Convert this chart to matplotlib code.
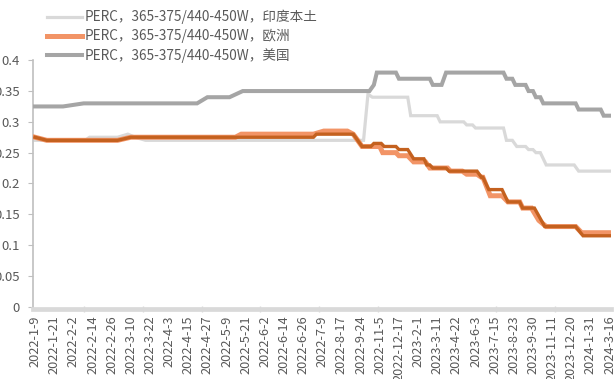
import matplotlib
matplotlib.use("Agg")
import matplotlib.pyplot as plt
from matplotlib.ticker import FixedLocator

plt.rcParams['font.family'] = ['Noto Sans CJK SC', 'DejaVu Sans']

# Category axis: one label every 13 observations
date_labels = [
    "2022-1-9", "2022-1-21", "2022-2-2", "2022-2-14", "2022-2-26", "2022-3-10",
    "2022-3-22", "2022-4-3", "2022-4-15", "2022-4-27", "2022-5-9", "2022-5-21",
    "2022-6-2", "2022-6-14", "2022-6-26", "2022-7-9", "2022-8-17", "2022-9-24",
    "2022-11-5", "2022-12-17", "2023-2-1", "2023-3-11", "2023-4-22", "2023-6-3",
    "2023-7-15", "2023-8-23", "2023-9-30", "2023-11-11", "2023-12-20",
    "2024-1-31", "2024-3-16",
]
label_step = 13
n_obs = (len(date_labels) - 1) * label_step + 1

# Price series (USD/W), given at the observations where the price changes
india_idx = [0, 34, 37, 56, 63, 68, 75, 223, 226, 229, 253, 255, 273, 275, 291,
             293, 297, 299, 318, 320, 324, 327, 333, 335, 338, 340, 343, 347,
             366, 369, 390]
india_val = [0.27, 0.27, 0.275, 0.275, 0.28, 0.275, 0.27, 0.27, 0.345, 0.34,
             0.34, 0.31, 0.31, 0.30, 0.30, 0.295, 0.295, 0.29, 0.29, 0.27, 0.27,
             0.26, 0.26, 0.255, 0.255, 0.25, 0.25, 0.23, 0.23, 0.22, 0.22]

europe_idx = [0, 8, 56, 65, 136, 140, 189, 196, 212, 216, 222, 234, 236, 245,
              247, 253, 257, 265, 268, 280, 282, 290, 293, 300, 303, 304, 309,
              317, 321, 329, 331, 337, 342, 347, 367, 371, 390]
europe_val = [0.275, 0.27, 0.27, 0.275, 0.275, 0.28, 0.28, 0.285, 0.285, 0.28,
              0.26, 0.26, 0.25, 0.25, 0.245, 0.245, 0.235, 0.235, 0.225, 0.225,
              0.22, 0.22, 0.215, 0.215, 0.21, 0.21, 0.18, 0.18, 0.17, 0.17, 0.16,
              0.16, 0.14, 0.13, 0.13, 0.12, 0.12]

europe2_idx = [0, 8, 56, 65, 189, 191, 216, 222, 228, 230, 235, 237, 245, 247,
               253, 257, 264, 266, 268, 270, 279, 281, 300, 303, 304, 308, 317,
               321, 329, 331, 339, 346, 367, 372, 390]
europe2_val = [0.275, 0.27, 0.27, 0.275, 0.275, 0.28, 0.28, 0.26, 0.26, 0.265,
               0.265, 0.26, 0.26, 0.255, 0.255, 0.24, 0.24, 0.23, 0.23, 0.225,
               0.225, 0.22, 0.22, 0.21, 0.21, 0.19, 0.19, 0.17, 0.17, 0.16, 0.16,
               0.13, 0.13, 0.115, 0.115]

us_idx = [0, 19, 33, 110, 117, 132, 141, 227, 230, 232, 245, 247, 268, 270,
          276, 279, 318, 320, 324, 326, 333, 335, 338, 340, 343, 345, 367, 369,
          384, 386, 390]
us_val = [0.325, 0.325, 0.33, 0.33, 0.34, 0.34, 0.35, 0.35, 0.36, 0.38, 0.38,
          0.37, 0.37, 0.36, 0.36, 0.38, 0.38, 0.37, 0.37, 0.36, 0.36, 0.35, 0.35,
          0.34, 0.34, 0.33, 0.33, 0.32, 0.32, 0.31, 0.31]

legend_labels = [
    "PERC，365-375/440-450W，印度本土",
    "PERC，365-375/440-450W，欧洲",
    "PERC，365-375/440-450W，美国",
]

y_ticks = [0, 0.05, 0.1, 0.15, 0.2, 0.25, 0.3, 0.35, 0.4]
y_tick_labels = ["0", "0.05", "0.1", "0.15", "0.2", "0.25", "0.3", "0.35", "0.4"]

text_color = "#595959"
axis_color = "#D9D9D9"

fig = plt.figure(figsize=(6.14, 3.79), dpi=100)
ax = fig.add_axes([0.0537, 0.191, 0.941, 0.650])

l_india, = ax.plot(india_idx, india_val, color="#D9D9D9", lw=2.3,
                   solid_joinstyle="miter", zorder=2)
l_eu, = ax.plot(europe_idx, europe_val, color="#F29466", lw=3.6,
                solid_joinstyle="miter", zorder=3)
l_us, = ax.plot(us_idx, us_val, color="#A5A5A5", lw=2.9,
                solid_joinstyle="miter", zorder=3)
ax.plot(europe2_idx, europe2_val, color="#C4611F", lw=2.4,
        solid_joinstyle="miter", zorder=4)

ax.set_xlim(-1.4, n_obs - 0.2)
ax.set_ylim(0, 0.4)

# x axis: date labels, no major tick marks, sparse minor marks
ax.set_xticks(range(0, n_obs, label_step))
ax.set_xticklabels(date_labels)
ax.tick_params(axis="x", which="major", length=0, pad=5, labelsize=9.2,
               labelcolor=text_color, labelrotation=90)
ax.xaxis.set_minor_locator(FixedLocator(list(range(33, n_obs, 40))))
ax.tick_params(axis="x", which="minor", length=5, width=1.0,
               color=axis_color, direction="inout")

# y axis
ax.set_yticks(y_ticks)
ax.set_yticklabels(y_tick_labels)
ax.tick_params(axis="y", length=3.5, width=0.8, color="#BFBFBF", pad=6,
               labelsize=9.5, labelcolor=text_color)

for side in ("top", "right"):
    ax.spines[side].set_visible(False)
ax.spines["left"].set_color("#BFBFBF")
ax.spines["left"].set_linewidth(1.2)
ax.spines["bottom"].set_color(axis_color)
ax.spines["bottom"].set_linewidth(3.4)
ax.spines["bottom"].set_position(("outward", 1.5))

fig.legend([l_india, l_eu, l_us], legend_labels, loc="upper left",
           bbox_to_anchor=(0.064, 0.995), frameon=False, fontsize=9.8,
           labelcolor=text_color, handlelength=2.55, handletextpad=0.15,
           labelspacing=0.35, borderaxespad=0.2)

fig.savefig("out.png", dpi=100)
